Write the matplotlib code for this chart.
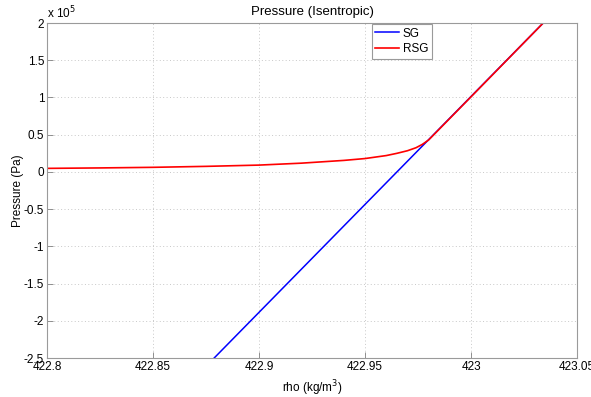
import matplotlib
matplotlib.use("Agg")
import matplotlib.pyplot as plt

# SG curve (straight line)
sg_rho = [422.8788, 423.034]
sg_p = [-2.5e5, 2.0e5]

# RSG curve
rsg_rho = [422.80, 422.825, 422.85, 422.875, 422.90, 422.92, 422.94, 422.95,
           422.96, 422.965, 422.97, 422.974, 422.977, 422.98, 423.00, 423.034]
rsg_p = [4800, 5400, 6200, 7500, 9200, 11800, 15500, 18000,
         22000, 25000, 28500, 32500, 37000, 43000, 1.01e5, 2.0e5]

x_ticks = [422.8, 422.85, 422.9, 422.95, 423, 423.05]
x_labels = ["422.8", "422.85", "422.9", "422.95", "423", "423.05"]
y_ticks = [-2.5, -2, -1.5, -1, -0.5, 0, 0.5, 1, 1.5, 2]
y_labels = ["-2.5", "-2", "-1.5", "-1", "-0.5", "0", "0.5", "1", "1.5", "2"]

plt.rcParams["font.family"] = ["Liberation Sans", "DejaVu Sans"]

fig = plt.figure(figsize=(5.91, 3.97), dpi=100)
ax = fig.add_axes([0.0795, 0.098, 0.897, 0.844])

ax.plot(sg_rho, sg_p, color="#0000ff", lw=1.1, label="SG")
ax.plot(rsg_rho, rsg_p, color="#ff0000", lw=1.2, label="RSG")

ax.set_xlim(422.8, 423.05)
ax.set_ylim(-2.5e5, 2e5)
ax.set_xticks(x_ticks)
ax.set_xticklabels(x_labels)
ax.set_yticks([v * 1e5 for v in y_ticks])
ax.set_yticklabels(y_labels)

ax.tick_params(direction="in", length=4, width=0.6, colors="#808080",
               labelcolor="black", labelsize=8.5, pad=2)
ax.grid(True, linestyle=(0, (1, 2.5)), color="#c8c8c8", lw=0.7)
for s in ax.spines.values():
    s.set_color("#9a9a9a")
    s.set_linewidth(0.8)

ax.text(0.0, 1.005, r"x 10$^5$", transform=ax.transAxes, fontsize=8.5,
        ha="left", va="bottom")

ax.set_title("Pressure (Isentropic)", fontsize=9.5, pad=6)
ax.set_xlabel(r"rho (kg/m$^3$)", fontsize=8.5, labelpad=4)
ax.set_ylabel("Pressure (Pa)", fontsize=8.5)
ax.yaxis.set_label_coords(-0.044, 0.5)

leg = ax.legend(loc="upper left", bbox_to_anchor=(0.613, 0.997), fontsize=8.5,
                fancybox=False, framealpha=1, edgecolor="#9a9a9a",
                handlelength=2.0, handletextpad=0.3, borderpad=0.3,
                labelspacing=0.3, borderaxespad=0)
leg.get_frame().set_linewidth(0.8)

fig.savefig("out.png", dpi=100)
